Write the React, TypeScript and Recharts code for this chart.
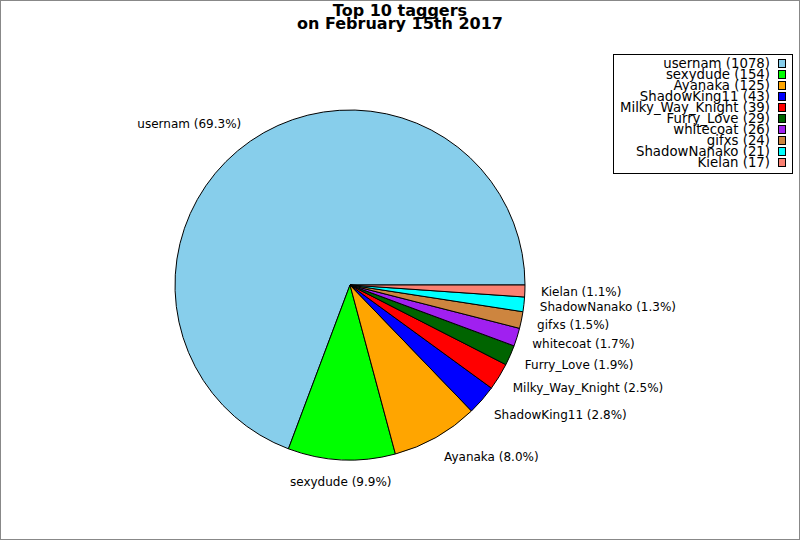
import { Cell, Legend, Pie, PieChart } from 'recharts'

const names = ['usernam', 'sexydude', 'Ayanaka', 'ShadowKing11', 'Milky_Way_Knight', 'Furry_Love', 'whitecoat', 'gifxs', 'ShadowNanako', 'Kielan']
const counts = [1078, 154, 125, 43, 39, 29, 26, 24, 21, 17]
const colors = ['#87ceeb', '#00ff00', '#ffa500', '#0000ff', '#ff0000', '#006400', '#a020f0', '#cd853f', '#00ffff', '#fa8072']
const titleLines = ['Top 10 taggers', 'on February 15th 2017']

const dados = names.map((name, i) => ({ name, value: counts[i] }))
const font = '"DejaVu Sans", sans-serif'
const RAD = Math.PI / 180

function RotuloFatia(props: any) {
  const { cx, cy, midAngle, outerRadius, percent, name } = props
  const r = outerRadius + 16
  const cos = Math.cos(-midAngle * RAD)
  const sin = Math.sin(-midAngle * RAD)
  const x = cx + r * cos
  const y = cy + r * sin
  const anchor = cos > 0.2 ? 'start' : cos < -0.2 ? 'end' : 'middle'
  return (
    <text x={x} y={y + 5.5 * sin + 4.5} textAnchor={anchor} fontFamily={font} fontSize={12} fill="#000">
      {`${name} (${(percent * 100).toFixed(1)}%)`}
    </text>
  )
}

function Legenda() {
  return (
    <svg width={180} height={120} style={{ display: 'block' }}>
      <rect x={0.5} y={0.5} width={179} height={119} fill="#fff" stroke="#000" />
      {names.map((n, i) => (
        <g key={n}>
          <text x={157} y={13.5 + 11 * i} textAnchor="end" fontFamily={font} fontSize={13.3} fill="#000">
            {`${n} (${counts[i]})`}
          </text>
          <rect x={165.5} y={5.5 + 11 * i} width={7} height={8} fill={colors[i]} stroke="#000" />
        </g>
      ))}
    </svg>
  )
}

export default function App() {
  return (
    <div style={{ position: 'absolute', left: 0, top: 0, width: 800, height: 540, background: '#fff' }}>
      <PieChart width={800} height={540} margin={{ top: 0, right: 0, bottom: 0, left: 0 }}>
        <Pie
          data={dados}
          dataKey="value"
          nameKey="name"
          cx={350}
          cy={285}
          outerRadius={175}
          startAngle={0}
          endAngle={360}
          stroke="#000"
          strokeWidth={1}
          label={RotuloFatia}
          labelLine={false}
          isAnimationActive={false}
        >
          {dados.map((d, i) => (
            <Cell key={d.name} fill={colors[i]} />
          ))}
        </Pie>
        <Legend content={() => <Legenda />} wrapperStyle={{ position: 'absolute', left: 613, top: 54, width: 180, height: 120 }} />
      </PieChart>
      <svg width={800} height={540} style={{ position: 'absolute', left: 0, top: 0, pointerEvents: 'none' }}>
        {titleLines.map((t, i) => (
          <text key={t} x={400} y={16 + 13 * i} textAnchor="middle" fontFamily={font} fontSize={16} fontWeight="bold" fill="#000">
            {t}
          </text>
        ))}
        <rect x={0.5} y={0.5} width={799} height={539} fill="none" stroke="#888" />
      </svg>
    </div>
  )
}
